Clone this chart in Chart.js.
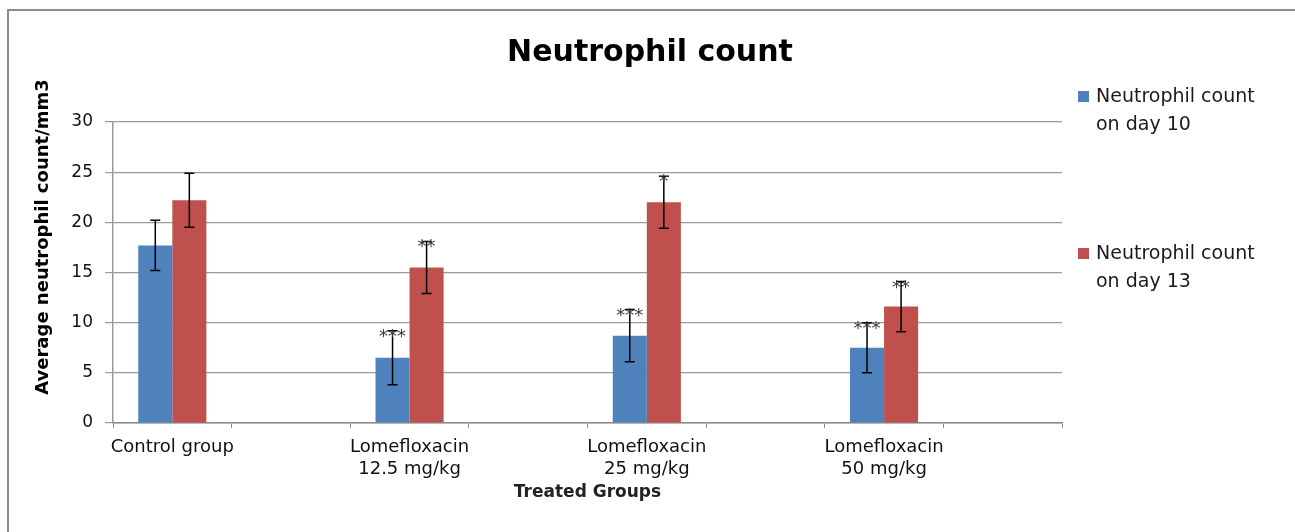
<!DOCTYPE html>
<html lang="en">
<head>
  <meta charset="UTF-8" />
  <title>Neutrophil count</title>
  <script src="https://cdn.jsdelivr.net/npm/chart.js"></script>
  <style>
    body { margin: 0; background: #fff; }
    .frame {
      position: absolute; left: 7px; top: 9px; width: 1300px; height: 600px;
      border-left: 2px solid #8c8c8c; border-top: 2px solid #8c8c8c;
    }
    #wrap { position: absolute; left: 0; top: 0; width: 1295px; height: 532px; }
  </style>
</head>
<body>
  <div class="frame"></div>
  <div id="wrap"><canvas id="chart" width="1295" height="532"></canvas></div>

  <script>
    // 8 slots on the axis, every second one empty (as in the original Excel chart)
    const groups = [
      "Control group", "",
      ["Lomefloxacin", "12.5 mg/kg"], "",
      ["Lomefloxacin", "25 mg/kg"], "",
      ["Lomefloxacin", "50 mg/kg"], ""
    ];
    const day10 = [17.7, null, 6.5, null, 8.7, null, 7.5, null];
    const day13 = [22.2, null, 15.5, null, 22.0, null, 11.6, null];
    const err10 = [2.5, null, 2.7, null, 2.6, null, 2.5, null];
    const err13 = [2.7, null, 2.6, null, 2.6, null, 2.5, null];
    const stars10 = ["", "", "***", "", "***", "", "***", ""];
    const stars13 = ["", "", "**", "", "*", "", "**", ""];
    const seriesNames = [["Neutrophil count", "on day 10"], ["Neutrophil count", "on day 13"]];
    const yTicks = [0, 5, 10, 15, 20, 25, 30];

    const errorBars = {
      id: "errorBars",
      afterDatasetsDraw(chart) {
        const ctx = chart.ctx;
        const y = chart.scales.y;
        const sets = [[err10, stars10], [err13, stars13]];
        sets.forEach(([errs, stars], di) => {
          const meta = chart.getDatasetMeta(di);
          const vals = chart.data.datasets[di].data;
          meta.data.forEach((bar, i) => {
            if (vals[i] == null) return;
            const x = bar.x;
            const top = y.getPixelForValue(vals[i] + errs[i]);
            const bot = y.getPixelForValue(vals[i] - errs[i]);
            ctx.save();
            ctx.strokeStyle = "#000";
            ctx.lineWidth = 1.5;
            ctx.beginPath();
            ctx.moveTo(x, top); ctx.lineTo(x, bot);
            ctx.moveTo(x - 5, top); ctx.lineTo(x + 5, top);
            ctx.moveTo(x - 5, bot); ctx.lineTo(x + 5, bot);
            ctx.stroke();
            if (stars[i]) {
              ctx.fillStyle = "#3a3a4a";
              ctx.font = "18px 'DejaVu Sans'";
              ctx.textAlign = "center";
              ctx.textBaseline = "alphabetic";
              ctx.fillText(stars[i], x, top + 11);
            }
            ctx.restore();
          });
        });
      }
    };

    const sideText = {
      id: "sideText",
      afterDraw(chart) {
        const ctx = chart.ctx;
        const area = chart.chartArea;
        ctx.save();
        ctx.fillStyle = "#000";
        ctx.textAlign = "center";
        ctx.textBaseline = "middle";
        // chart title
        ctx.font = "bold 30px 'DejaVu Sans'";
        ctx.fillText("Neutrophil count", 650, 53);
        // x axis title
        ctx.fillStyle = "#222";
        ctx.font = "bold 17px 'DejaVu Sans'";
        ctx.fillText("Treated Groups", (area.left + area.right) / 2, 493);
        // y axis title
        ctx.translate(43, 237);
        ctx.rotate(-Math.PI / 2);
        ctx.fillStyle = "#000";
        ctx.font = "bold 18px 'DejaVu Sans'";
        ctx.fillText("Average neutrophil count/mm3", 0, 0);
        ctx.restore();

        // legend
        const tops = [97, 254];
        chart.data.datasets.forEach((ds, i) => {
          ctx.save();
          ctx.fillStyle = ds.backgroundColor;
          ctx.fillRect(1078, tops[i] - 6, 11, 11);
          ctx.fillStyle = "#1a1a1a";
          ctx.font = "19px 'DejaVu Sans'";
          ctx.textBaseline = "middle";
          ctx.textAlign = "left";
          seriesNames[i].forEach((line, k) => ctx.fillText(line, 1096, tops[i] + k * 28));
          ctx.restore();
        });
      }
    };

    new Chart(document.getElementById("chart"), {
      type: "bar",
      data: {
        labels: groups,
        datasets: [
          { label: "Neutrophil count on day 10", data: day10, backgroundColor: "#4f81bd" },
          { label: "Neutrophil count on day 13", data: day13, backgroundColor: "#c0504d" }
        ]
      },
      options: {
        responsive: false,
        animation: false,
        layout: { padding: { left: 0, right: 233, top: 122, bottom: 0 } },
        categoryPercentage: 0.574,
        barPercentage: 1,
        plugins: {
          legend: { display: false },
          tooltip: { enabled: false },
          title: { display: false }
        },
        scales: {
          x: {
            grid: { offset: true, drawOnChartArea: false, drawTicks: true, tickLength: 5, color: "#8c8c8c" },
            border: { color: "#8c8c8c", width: 1.5 },
            ticks: {
              autoSkip: false, maxRotation: 0, padding: 8, color: "#111",
              font: { family: "'DejaVu Sans'", size: 18, lineHeight: 1.25 }
            },
            afterFit(s) { s.height = 532 - 423; }
          },
          y: {
            min: 0, max: 30,
            afterBuildTicks(s) { s.ticks = yTicks.map(v => ({ value: v })); },
            grid: { color: "#9a9a9a", lineWidth: 1.2, tickLength: 8 },
            border: { color: "#9a9a9a", width: 1.5 },
            ticks: { padding: 12, color: "#111", font: { family: "'DejaVu Sans'", size: 17 } },
            afterFit(s) { s.width = 113; }
          }
        }
      },
      plugins: [errorBars, sideText]
    });
  </script>
</body>
</html>
